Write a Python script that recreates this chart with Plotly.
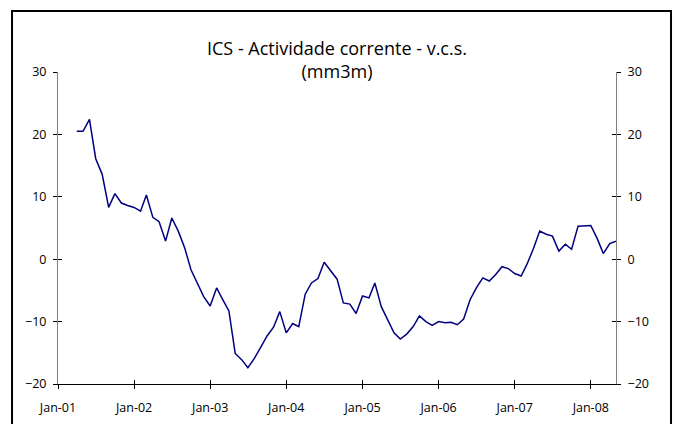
import pandas as pd
import plotly.graph_objects as go

# Monthly observations, April 2001 to May 2008
months = pd.date_range("2001-04-01", periods=86, freq="MS")
ics_values = [
    20.5, 20.5, 22.4, 16.1, 13.6, 8.3, 10.5, 9.0, 8.6, 8.3,
    7.7, 10.3, 6.7, 6.0, 2.9, 6.6, 4.5, 1.8, -1.7, -4.0,
    -6.0, -7.5, -4.6, -6.4, -8.3, -15.1, -16.1, -17.4, -15.9, -14.1,
    -12.3, -10.9, -8.4, -11.8, -10.3, -10.8, -5.6, -3.8, -3.1, -0.5,
    -1.8, -3.2, -7.0, -7.2, -8.7, -5.9, -6.2, -3.8, -7.6, -9.7,
    -11.8, -12.8, -12.0, -10.8, -9.1, -10.0, -10.6, -10.0, -10.2, -10.1,
    -10.5, -9.6, -6.5, -4.6, -3.0, -3.5, -2.5, -1.2, -1.5, -2.3,
    -2.7, -0.8, 1.7, 4.5, 4.0, 3.7, 1.3, 2.4, 1.6, 5.3,
    5.3, 5.4, 3.3, 0.9, 2.5, 2.9,
]
title_text = "ICS - Actividade corrente - v.c.s.<br>(mm3m)"
y_ticks = [-20, -10, 0, 10, 20, 30]
x_range = ["2001-01-01", "2008-05-01"]

FONT = "Open Sans"
fig = go.Figure()
fig.add_trace(go.Scatter(x=months, y=ics_values, mode="lines",
                         line=dict(color="#000080", width=1.5),
                         xaxis="x", yaxis="y", showlegend=False))
# helper (invisible) traces so the extra overlay axes are drawn
for xa, ya in [("x", "y2"), ("x2", "y3"), ("x2", "y4")]:
    fig.add_trace(go.Scatter(x=months, y=ics_values, mode="lines",
                             line=dict(width=0), opacity=0, hoverinfo="skip",
                             xaxis=xa, yaxis=ya, showlegend=False))

ycommon = dict(range=[-20, 30], tickvals=y_ticks, showgrid=False, zeroline=False,
               tickcolor="black", ticklen=4, tickwidth=1, automargin=False)

fig.update_layout(
    template="none",
    width=674, height=424,
    margin=dict(l=58, r=58, t=72, b=40, pad=0),
    paper_bgcolor="white", plot_bgcolor="white",
    font=dict(family=FONT, size=12, color="black"),
    title=dict(text=title_text, x=0.5, xanchor="center", y=0.871, yanchor="middle",
               xref="paper", font=dict(family=FONT, size=18, color="black")),
    xaxis=dict(type="date", range=x_range, dtick="M12", tick0="2001-01-01",
               tickformat="%b-%y", showgrid=False, zeroline=False,
               showline=True, linecolor="black", linewidth=1,
               ticks="outside", ticklen=4, tickcolor="black", tickwidth=1,
               ticklabelstandoff=8, tickfont=dict(size=12.5), automargin=False),
    xaxis2=dict(type="date", matches="x", overlaying="x", dtick="M12",
                tick0="2001-01-01", showgrid=False, zeroline=False,
                showline=False, ticks="inside", ticklen=4, tickcolor="black",
                showticklabels=False, automargin=False),
    yaxis=dict(**ycommon, side="left", showline=True, linecolor="#808080",
               linewidth=1, ticks="outside", ticklabelstandoff=4,
               tickfont=dict(size=12.5)),
    yaxis2=dict(**ycommon, side="right", overlaying="y", showline=True,
                linecolor="#808080", linewidth=1, ticks="outside",
                ticklabelstandoff=4, tickfont=dict(size=12.5)),
    yaxis3=dict(**ycommon, side="left", overlaying="y", showline=False,
                ticks="inside", showticklabels=False),
    yaxis4=dict(**ycommon, side="right", overlaying="y", showline=False,
                ticks="inside", showticklabels=False),
    shapes=[dict(type="rect", xref="paper", yref="paper",
                 x0=-0.0824, x1=1.0986, y0=-0.18, y1=1.1955,
                 line=dict(color="black", width=2), fillcolor="rgba(0,0,0,0)",
                 layer="above")],
)

fig.write_html(
    "out.html",
    config={"displayModeBar": False},
    post_script="document.body.style.margin='0';document.body.style.overflow='hidden';",
)
